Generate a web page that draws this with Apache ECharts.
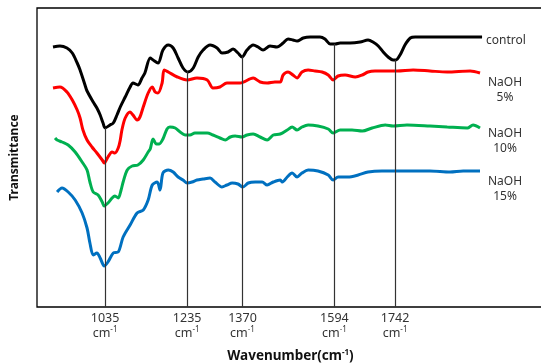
<!DOCTYPE html>
<html>
<head>
<meta charset="utf-8">
<script src="https://cdn.jsdelivr.net/npm/echarts@6/dist/echarts.min.js"></script>
<style>
  html, body { margin: 0; padding: 0; background: #fff; }
  #chart { width: 541px; height: 363px; }
</style>
</head>
<body>
<div id="chart"></div>
<script>
// peak positions marked on the wavenumber axis (cm-1)
const peaks = [1035, 1235, 1370, 1594, 1742];

// spectra: wavenumber (cm-1) and transmittance (arbitrary units, offset per sample)
const controlWn = [908, 925, 942, 955, 967, 974, 986, 991, 1006, 1015, 1023, 1030, 1035, 1047, 1055, 1064, 1072, 1084, 1096, 1103, 1115, 1125, 1132, 1145, 1152, 1164, 1176, 1189, 1201, 1213, 1225, 1237, 1250, 1262, 1274, 1291, 1308, 1320, 1335, 1347, 1359, 1369, 1381, 1396, 1408, 1420, 1437, 1454, 1469, 1481, 1493, 1503, 1518, 1535, 1559, 1571, 1584, 1596, 1608, 1632, 1657, 1676, 1688, 1701, 1713, 1725, 1737, 1744, 1754, 1766, 1779, 1791, 1954];
const controlT = [260, 261, 259, 254, 244, 237, 222, 216, 205, 199, 192, 184, 179, 182, 184, 192, 200, 210, 220, 224, 222, 229, 234, 249, 247, 244, 257, 262, 259, 249, 239, 235, 239, 250, 257, 262, 259, 254, 255, 258, 254, 250, 257, 262, 260, 257, 261, 260, 264, 268, 267, 266, 269, 270, 270, 268, 263, 263, 264, 264, 265, 267, 265, 261, 255, 250, 247, 247, 252, 262, 269, 270, 270];

const naoh5Wn = [908, 925, 942, 955, 967, 974, 981, 991, 1003, 1015, 1028, 1033, 1042, 1052, 1059, 1067, 1072, 1076, 1084, 1096, 1103, 1113, 1120, 1128, 1140, 1150, 1157, 1164, 1174, 1179, 1189, 1211, 1235, 1259, 1284, 1298, 1315, 1332, 1364, 1396, 1413, 1430, 1449, 1462, 1469, 1481, 1493, 1503, 1515, 1530, 1547, 1564, 1579, 1591, 1603, 1620, 1645, 1662, 1676, 1693, 1718, 1747, 1786, 1827, 1869, 1925, 1949];
const naoh5T = [219, 220, 215, 207, 197, 189, 177, 167, 160, 154, 147, 144, 150, 155, 154, 159, 167, 177, 189, 195, 192, 187, 190, 200, 214, 220, 215, 214, 224, 237, 235, 230, 227, 229, 227, 219, 220, 224, 224, 229, 225, 224, 225, 225, 232, 235, 232, 229, 235, 237, 236, 235, 232, 227, 231, 232, 230, 232, 235, 236, 236, 236, 237, 236, 235, 236, 234];

const naoh10Wn = [913, 918, 930, 945, 962, 979, 991, 998, 1006, 1018, 1028, 1033, 1042, 1052, 1059, 1067, 1074, 1079, 1089, 1101, 1115, 1128, 1140, 1145, 1152, 1160, 1167, 1176, 1186, 1193, 1206, 1218, 1230, 1242, 1254, 1284, 1298, 1315, 1328, 1340, 1352, 1369, 1381, 1396, 1413, 1430, 1445, 1462, 1479, 1491, 1503, 1515, 1530, 1554, 1579, 1591, 1608, 1637, 1662, 1686, 1718, 1737, 1771, 1827, 1869, 1918, 1932, 1949];
const naoh10T = [169, 167, 165, 162, 155, 145, 137, 125, 115, 112, 105, 101, 104, 109, 111, 109, 117, 125, 137, 141, 142, 147, 155, 158, 168, 163, 163, 168, 178, 180, 179, 175, 172, 172, 174, 174, 172, 169, 167, 170, 171, 170, 172, 173, 170, 167, 172, 173, 177, 180, 177, 180, 182, 181, 178, 174, 177, 177, 176, 179, 182, 181, 182, 181, 180, 179, 182, 179];

const naoh15Wn = [918, 930, 945, 962, 979, 991, 998, 1006, 1015, 1023, 1033, 1042, 1055, 1067, 1079, 1096, 1113, 1128, 1140, 1150, 1162, 1169, 1176, 1189, 1201, 1213, 1225, 1235, 1247, 1259, 1274, 1291, 1303, 1320, 1332, 1345, 1359, 1371, 1384, 1401, 1418, 1430, 1445, 1462, 1467, 1479, 1491, 1503, 1515, 1530, 1554, 1579, 1591, 1603, 1627, 1652, 1676, 1710, 1747, 1827, 1876, 1908, 1949];
const naoh15T = [115, 119, 115, 107, 94, 79, 64, 52, 54, 49, 41, 45, 54, 55, 70, 82, 94, 97, 107, 122, 125, 117, 134, 137, 135, 130, 127, 124, 125, 127, 128, 129, 125, 120, 122, 124, 123, 120, 124, 125, 125, 122, 125, 127, 125, 130, 134, 130, 134, 137, 136, 132, 127, 130, 130, 132, 135, 136, 136, 136, 135, 136, 136];

const pairs = (xs, ys) => xs.map((x, i) => [x, ys[i]]);

// value of the control curve at a wavenumber (line ends at the control spectrum)
function controlAt(wn) {
  for (let i = 1; i < controlWn.length; i++) {
    if (wn <= controlWn[i]) {
      const t = (wn - controlWn[i - 1]) / (controlWn[i] - controlWn[i - 1]);
      return controlT[i - 1] + t * (controlT[i] - controlT[i - 1]);
    }
  }
  return controlT[controlT.length - 1];
}

const FONT = "'Noto Sans', 'Open Sans', sans-serif";
const TXT = '#333';

function curve(name, data, color, label, offset, align) {
  return {
    name: name,
    type: 'line',
    data: data,
    showSymbol: false,
    smooth: 0.3,
    lineStyle: { color: color, width: 3 },
    itemStyle: { color: color },
    endLabel: {
      show: true,
      formatter: label,
      color: TXT,
      fontFamily: FONT,
      fontSize: 12,
      lineHeight: 15,
      align: align,
      distance: 0,
      offset: offset
    },
    z: 2
  };
}

const chart = echarts.init(document.getElementById('chart'));

chart.setOption({
  animation: false,
  grid: {
    left: 37,
    top: 8,
    right: -3,
    bottom: 56,
    outerBoundsMode: 'none',
    show: true,
    borderColor: '#000',
    borderWidth: 1.3
  },
  xAxis: {
    type: 'value',
    min: 869,
    max: 2105,
    axisLine: { show: false },
    axisTick: { show: false },
    splitLine: { show: false },
    axisLabel: {
      customValues: peaks,
      margin: 4,
      color: TXT,
      fontFamily: FONT,
      fontSize: 12,
      lineHeight: 15,
      formatter: v => '{n|' + v + '}\n{u|cm}{s|-1}',
      rich: {
        n: { fontSize: 12.5, fontFamily: FONT, color: TXT, lineHeight: 15 },
        u: { fontSize: 12.5, fontFamily: FONT, color: TXT, lineHeight: 15 },
        s: { fontSize: 8, fontFamily: FONT, color: TXT, verticalAlign: 'top', lineHeight: 15 }
      }
    },
    name: '{b|Wavenumber(cm}{bs|-1}{b|)}',
    nameLocation: 'middle',
    nameGap: 42,
    nameTextStyle: {
      rich: {
        b: { fontSize: 13.5, fontWeight: 'bold', fontFamily: FONT, color: '#111' },
        bs: { fontSize: 8, fontWeight: 'bold', fontFamily: FONT, color: '#111', verticalAlign: 'top' }
      }
    }
  },
  yAxis: {
    type: 'value',
    min: 0,
    max: 299,
    axisLine: { show: false },
    axisTick: { show: false },
    axisLabel: { show: false },
    splitLine: { show: false },
    name: 'Transmittance',
    nameLocation: 'middle',
    nameRotate: 90,
    nameGap: 16,
    nameTextStyle: {
      fontSize: 12,
      fontWeight: 'bold',
      fontFamily: FONT,
      color: '#111'
    }
  },
  series: [
    curve('control', pairs(controlWn, controlT), '#000000', 'control', [4, 4], 'left'),
    curve('NaOH 5%', pairs(naoh5Wn, naoh5T), '#ff0000', 'NaOH\n5%', [25, 17], 'center'),
    curve('NaOH 10%', pairs(naoh10Wn, naoh10T), '#00b050', 'NaOH\n10%', [25, 13], 'center'),
    curve('NaOH 15%', pairs(naoh15Wn, naoh15T), '#0070c0', 'NaOH\n15%', [25, 18], 'center'),
    {
      name: 'peaks',
      type: 'line',
      data: [],
      z: 5,
      markLine: {
        silent: true,
        symbol: 'none',
        label: { show: false },
        lineStyle: { color: '#333', width: 1.2, type: 'solid' },
        data: peaks.map(p => [{ coord: [p, 0] }, { coord: [p, controlAt(p)] }])
      }
    }
  ]
});
</script>
</body>
</html>
